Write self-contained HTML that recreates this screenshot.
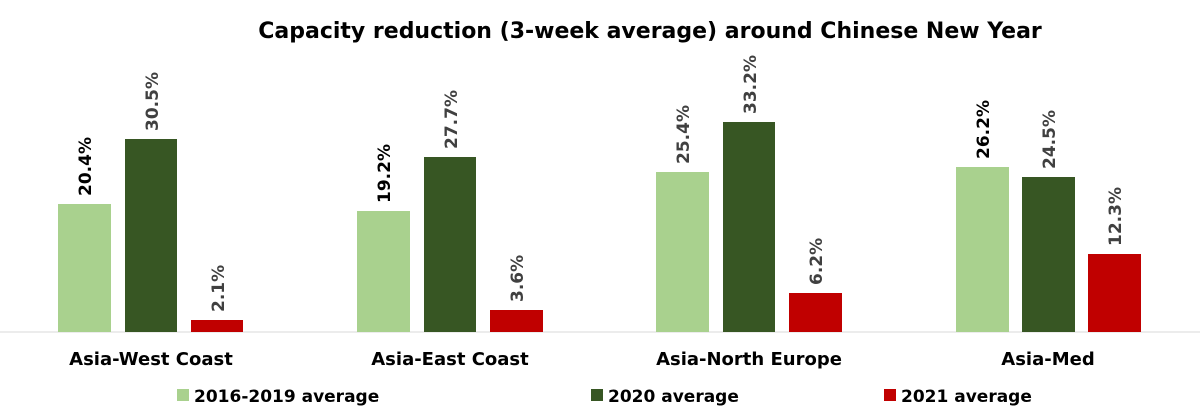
<!DOCTYPE html>
<html><head><style>
body{margin:0;background:#fff;}
svg text{font-family:"DejaVu Sans","Liberation Sans",sans-serif;font-weight:bold;}
</style></head><body>
<svg width="1200" height="410" xmlns="http://www.w3.org/2000/svg">
<text x="650" y="38" font-size="22" text-anchor="middle" fill="#000">Capacity reduction (3-week average) around Chinese New Year</text>
<line x1="0" y1="332" x2="1200" y2="332" stroke="#d9d9d9" stroke-width="1"/>
<rect x="58" y="204" width="53" height="128" fill="#a9d18e"/>
<rect x="125" y="139" width="52" height="193" fill="#375623"/>
<rect x="191" y="320" width="52" height="12" fill="#c00000"/>
<rect x="357" y="211" width="53" height="121" fill="#a9d18e"/>
<rect x="424" y="157" width="52" height="175" fill="#375623"/>
<rect x="490" y="310" width="53" height="22" fill="#c00000"/>
<rect x="656" y="172" width="53" height="160" fill="#a9d18e"/>
<rect x="723" y="122" width="52" height="210" fill="#375623"/>
<rect x="789" y="293" width="53" height="39" fill="#c00000"/>
<rect x="956" y="167" width="53" height="165" fill="#a9d18e"/>
<rect x="1022" y="177" width="53" height="155" fill="#375623"/>
<rect x="1088" y="254" width="53" height="78" fill="#c00000"/>
<g font-size="17">
<text transform="translate(91,196) rotate(-90)" fill="#000">20.4%</text>
<text transform="translate(158,131) rotate(-90)" fill="#404040">30.5%</text>
<text transform="translate(224,312) rotate(-90)" fill="#404040">2.1%</text>
<text transform="translate(390,203) rotate(-90)" fill="#000">19.2%</text>
<text transform="translate(457,149) rotate(-90)" fill="#404040">27.7%</text>
<text transform="translate(523,302) rotate(-90)" fill="#404040">3.6%</text>
<text transform="translate(689,164) rotate(-90)" fill="#404040">25.4%</text>
<text transform="translate(756,114) rotate(-90)" fill="#404040">33.2%</text>
<text transform="translate(822,285) rotate(-90)" fill="#404040">6.2%</text>
<text transform="translate(989,159) rotate(-90)" fill="#000">26.2%</text>
<text transform="translate(1055,169) rotate(-90)" fill="#404040">24.5%</text>
<text transform="translate(1121,246) rotate(-90)" fill="#404040">12.3%</text>
</g>
<g font-size="18" fill="#000" text-anchor="middle">
<text x="151" y="365">Asia-West Coast</text>
<text x="450" y="365">Asia-East Coast</text>
<text x="749" y="365">Asia-North Europe</text>
<text x="1048" y="365">Asia-Med</text>
</g>
<g font-size="17" fill="#000">
<rect x="177" y="389" width="12" height="12" fill="#a9d18e"/>
<text x="194" y="402">2016-2019 average</text>
<rect x="591" y="389" width="12" height="12" fill="#375623"/>
<text x="608" y="402">2020 average</text>
<rect x="884" y="389" width="12" height="12" fill="#c00000"/>
<text x="901" y="402">2021 average</text>
</g>
</svg>
</body></html>
